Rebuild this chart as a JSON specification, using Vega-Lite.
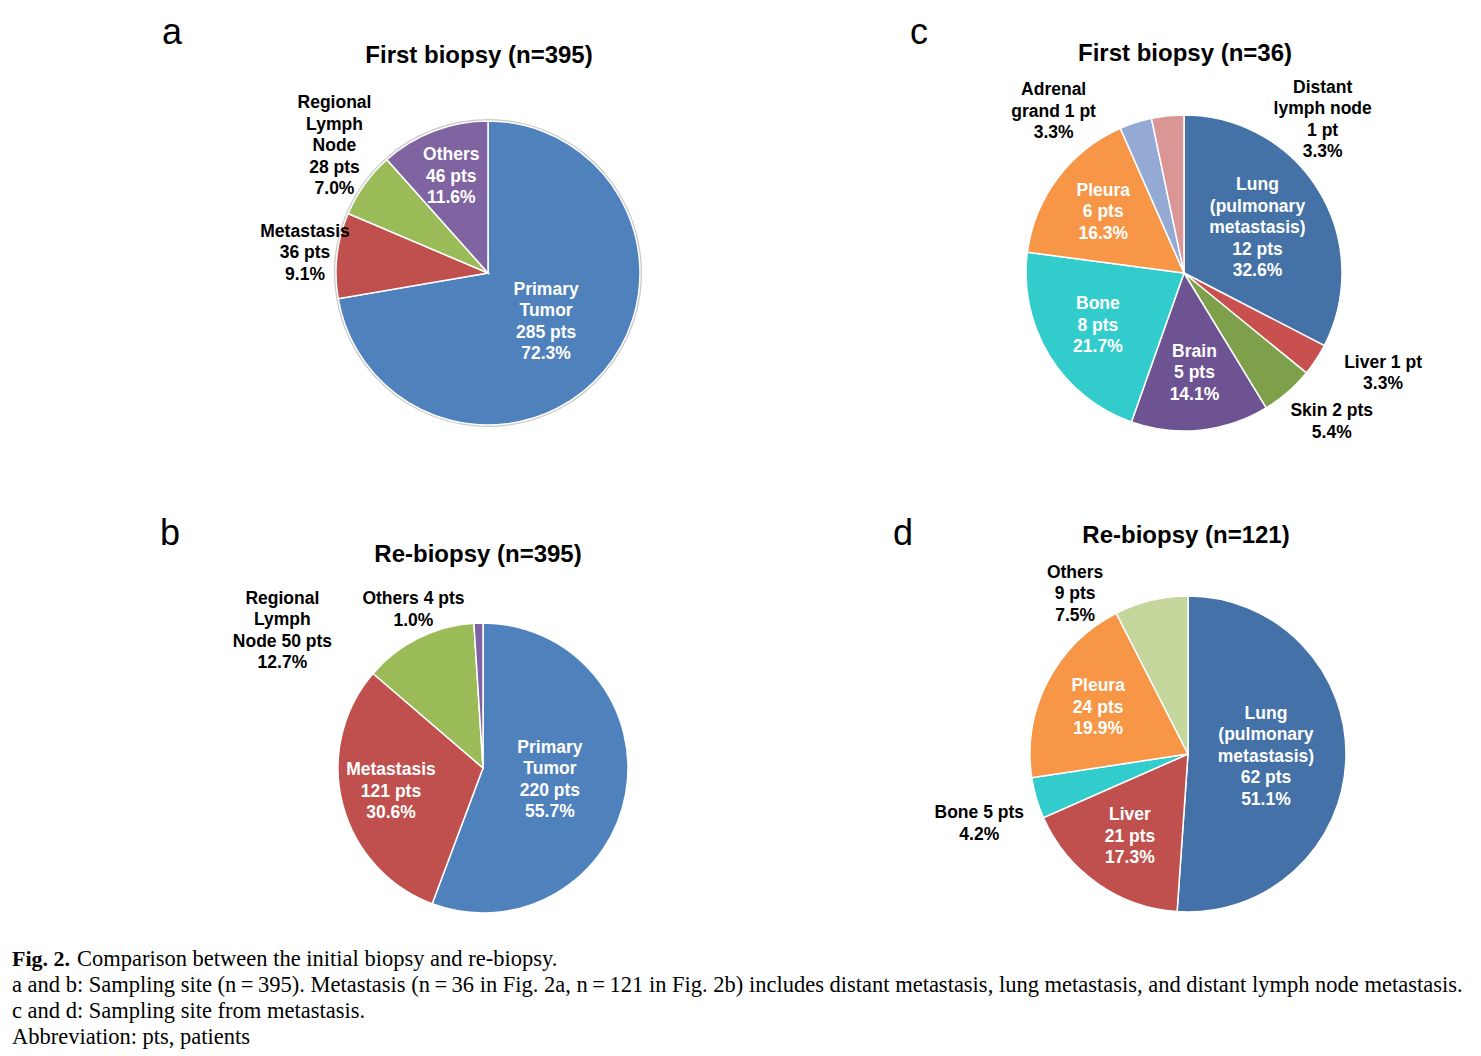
{
  "$schema": "https://vega.github.io/schema/vega-lite/v6.json",
  "background": "white",
  "padding": {"left": 12, "top": 15, "right": 0, "bottom": 0},
  "bounds": "flush",
  "spacing": 884,
  "resolve": {"scale": {"color": "independent", "theta": "independent", "y": "independent"}},
  "config": {
    "view": {"stroke": null},
    "title": {"font": "Liberation Sans", "fontSize": 24, "fontWeight": "bold", "color": "#000000", "anchor": "middle", "frame": "group"},
    "text": {"font": "Liberation Sans", "fontSize": 17.5, "fontWeight": "bold", "lineHeight": 21.5, "lineBreak": "\n"}
  },
  "datasets": {
    "a": [
      {"idx": 1, "site": "Primary Tumor", "pts": 285, "pct": 72.3, "label": "Primary\nTumor\n285 pts\n72.3%"},
      {"idx": 2, "site": "Metastasis", "pts": 36, "pct": 9.1, "label": "Metastasis\n36 pts\n9.1%"},
      {"idx": 3, "site": "Regional Lymph Node", "pts": 28, "pct": 7.0, "label": "Regional\nLymph\nNode\n28 pts\n7.0%"},
      {"idx": 4, "site": "Others", "pts": 46, "pct": 11.6, "label": "Others\n46 pts\n11.6%"}
    ],
    "b": [
      {"idx": 1, "site": "Primary Tumor", "pts": 220, "pct": 55.7, "label": "Primary\nTumor\n220 pts\n55.7%"},
      {"idx": 2, "site": "Metastasis", "pts": 121, "pct": 30.6, "label": "Metastasis\n121 pts\n30.6%"},
      {"idx": 3, "site": "Regional Lymph Node", "pts": 50, "pct": 12.7, "label": "Regional\nLymph\nNode 50 pts\n12.7%"},
      {"idx": 4, "site": "Others", "pts": 4, "pct": 1.0, "label": "Others 4 pts\n1.0%"}
    ],
    "c": [
      {"idx": 1, "site": "Lung", "pts": 12, "pct": 32.6, "label": "Lung\n(pulmonary\nmetastasis)\n12 pts\n32.6%"},
      {"idx": 2, "site": "Liver", "pts": 1, "pct": 3.3, "label": "Liver  1 pt\n3.3%"},
      {"idx": 3, "site": "Skin", "pts": 2, "pct": 5.4, "label": "Skin 2 pts\n5.4%"},
      {"idx": 4, "site": "Brain", "pts": 5, "pct": 14.1, "label": "Brain\n5 pts\n14.1%"},
      {"idx": 5, "site": "Bone", "pts": 8, "pct": 21.7, "label": "Bone\n8 pts\n21.7%"},
      {"idx": 6, "site": "Pleura", "pts": 6, "pct": 16.3, "label": "Pleura\n6 pts\n16.3%"},
      {"idx": 7, "site": "Adrenal grand", "pts": 1, "pct": 3.3, "label": "Adrenal\ngrand 1 pt\n3.3%"},
      {"idx": 8, "site": "Distant lymph node", "pts": 1, "pct": 3.3, "label": "Distant\nlymph node\n1 pt\n3.3%"}
    ],
    "d": [
      {"idx": 1, "site": "Lung", "pts": 62, "pct": 51.1, "label": "Lung\n(pulmonary\nmetastasis)\n62 pts\n51.1%"},
      {"idx": 2, "site": "Liver", "pts": 21, "pct": 17.3, "label": "Liver\n21 pts\n17.3%"},
      {"idx": 3, "site": "Bone", "pts": 5, "pct": 4.2, "label": "Bone  5 pts\n4.2%"},
      {"idx": 4, "site": "Pleura", "pts": 24, "pct": 19.9, "label": "Pleura\n24 pts\n19.9%"},
      {"idx": 5, "site": "Others", "pts": 9, "pct": 7.5, "label": "Others\n9 pts\n7.5%"}
    ],
    "caption": [
      {"line": 1, "lead": "Fig. 2.", "text": "Comparison between the initial biopsy and re-biopsy."},
      {"line": 2, "lead": "", "text": "a and b: Sampling site (n\u2009=\u2009395). Metastasis (n\u2009=\u200936 in Fig. 2a, n\u2009=\u2009121 in Fig. 2b) includes distant metastasis, lung metastasis, and distant lymph node metastasis."},
      {"line": 3, "lead": "", "text": "c and d: Sampling site from metastasis."},
      {"line": 4, "lead": "", "text": "Abbreviation: pts, patients"}
    ]
  },
  "hconcat": [
    {
      "bounds": "flush",
      "spacing": 0,
      "resolve": {"scale": {"color": "independent", "theta": "independent", "y": "independent"}},
      "vconcat": [
        {
          "width": 340, "height": 4,
          "data": {"values": [{"panel": "a"}]},
          "mark": {"type": "text", "fontSize": 36, "fontWeight": "normal", "align": "right", "baseline": "alphabetic"},
          "encoding": {"text": {"field": "panel"}}
        },
        {
          "width": 952, "height": 454,
          "title": {"text": "First biopsy (n=395)", "offset": -22, "dx": -9},
          "data": {"name": "a"},
          "encoding": {
            "theta": {"field": "pct", "type": "quantitative", "stack": true},
            "order": {"field": "idx", "type": "quantitative"}
          },
          "layer": [
            {
              "mark": {"type": "arc", "outerRadius": 154, "fill": "#C9C9C9", "strokeWidth": 0},
              "encoding": {"detail": {"field": "site"}}
            },
            {
              "mark": {"type": "arc", "outerRadius": 152, "stroke": "white", "strokeWidth": 1.5},
              "encoding": {"color": {"field": "site", "type": "nominal", "legend": null,
                "scale": {"domain": ["Primary Tumor", "Metastasis", "Regional Lymph Node", "Others"], "range": ["#4F81BD", "#C0504D", "#9BBB59", "#8064A2"]}}}
            },
            {
              "mark": {"type": "text", "fill": "white", "radius": {"expr": "datum.pct > 40 ? 76 : 103"},
                "dy": {"expr": "-(length(split(datum.label, '\\n')) - 1) * 10.75"}},
              "encoding": {"detail": {"field": "site"},
                "text": {"condition": {"test": "indexof(['Primary Tumor','Others'], datum.site) >= 0", "field": "label"}, "value": ""}}
            },
            {
              "mark": {"type": "text", "fill": "black", "radius": 152,
                "dx": {"expr": "datum.site == 'Metastasis' ? -32 : datum.site == 'Regional Lymph Node' ? -30 : 0"},
                "dy": {"expr": "-(length(split(datum.label, '\\n')) - 1) * 10.75 + (datum.site == 'Metastasis' ? -2 : datum.site == 'Regional Lymph Node' ? -38 : 0)"}},
              "encoding": {"detail": {"field": "site"},
                "text": {"condition": {"test": "indexof(['Metastasis','Regional Lymph Node'], datum.site) >= 0", "field": "label"}, "value": ""}}
            }
          ]
        },
        {
          "width": 336, "height": 90,
          "data": {"values": [{"panel": "b"}]},
          "mark": {"type": "text", "fontSize": 36, "fontWeight": "normal", "align": "right", "baseline": "alphabetic"},
          "encoding": {"text": {"field": "panel"}}
        },
        {
          "width": 942, "height": 356,
          "title": {"text": "Re-biopsy (n=395)", "offset": 23, "dx": -5},
          "data": {"name": "b"},
          "encoding": {
            "theta": {"field": "pct", "type": "quantitative", "stack": true},
            "order": {"field": "idx", "type": "quantitative"}
          },
          "layer": [
            {
              "mark": {"type": "arc", "outerRadius": 145, "stroke": "white", "strokeWidth": 1.5},
              "encoding": {"color": {"field": "site", "type": "nominal", "legend": null,
                "scale": {"domain": ["Primary Tumor", "Metastasis", "Regional Lymph Node", "Others"], "range": ["#4F81BD", "#C0504D", "#9BBB59", "#8064A2"]}}}
            },
            {
              "mark": {"type": "text", "fill": "white", "radius": {"expr": "datum.pct > 40 ? 68 : 95"},
                "dy": {"expr": "-(length(split(datum.label, '\\n')) - 1) * 10.75"}},
              "encoding": {"detail": {"field": "site"},
                "text": {"condition": {"test": "indexof(['Primary Tumor','Metastasis'], datum.site) >= 0", "field": "label"}, "value": ""}}
            },
            {
              "mark": {"type": "text", "fill": "black", "radius": 145,
                "dx": {"expr": "datum.site == 'Regional Lymph Node' ? -136 : datum.site == 'Others' ? -65 : 0"},
                "dy": {"expr": "-(length(split(datum.label, '\\n')) - 1) * 10.75 + (datum.site == 'Regional Lymph Node' ? -7 : datum.site == 'Others' ? -13 : 0)"}},
              "encoding": {"detail": {"field": "site"},
                "text": {"condition": {"test": "indexof(['Regional Lymph Node','Others'], datum.site) >= 0", "field": "label"}, "value": ""}}
            }
          ]
        },
        {
          "width": 1460, "height": 104,
          "data": {"name": "caption"},
          "encoding": {"y": {"field": "line", "type": "ordinal", "axis": null}},
          "layer": [
            {
              "transform": [{"filter": "datum.line == 1"}],
              "mark": {"type": "text", "align": "left", "x": 0, "font": "Liberation Serif", "fontSize": 22, "fontWeight": "bold"},
              "encoding": {"text": {"field": "lead"}}
            },
            {
              "transform": [{"filter": "datum.line == 1"}],
              "mark": {"type": "text", "align": "left", "x": 0, "dx": 65, "font": "Liberation Serif", "fontSize": 22.5, "fontWeight": "normal"},
              "encoding": {"text": {"field": "text"}}
            },
            {
              "transform": [{"filter": "datum.line > 1"}],
              "mark": {"type": "text", "align": "left", "x": 0, "font": "Liberation Serif", "fontSize": 22.5, "fontWeight": "normal"},
              "encoding": {"text": {"field": "text"}}
            }
          ]
        }
      ]
    },
    {
      "bounds": "flush",
      "spacing": 0,
      "resolve": {"scale": {"color": "independent", "theta": "independent"}},
      "vconcat": [
        {
          "width": 46, "height": 4,
          "data": {"values": [{"panel": "c"}]},
          "mark": {"type": "text", "fontSize": 36, "fontWeight": "normal", "align": "center", "baseline": "alphabetic"},
          "encoding": {"text": {"field": "panel"}}
        },
        {
          "width": 576, "height": 454,
          "title": {"text": "First biopsy (n=36)", "offset": -20, "dx": 1},
          "data": {"name": "c"},
          "encoding": {
            "theta": {"field": "pct", "type": "quantitative", "stack": true},
            "order": {"field": "idx", "type": "quantitative"}
          },
          "layer": [
            {
              "mark": {"type": "arc", "outerRadius": 158, "stroke": "white", "strokeWidth": 1.5},
              "encoding": {"color": {"field": "site", "type": "nominal", "legend": null,
                "scale": {"domain": ["Lung", "Liver", "Skin", "Brain", "Bone", "Pleura", "Adrenal grand", "Distant lymph node"],
                  "range": ["#4472A6", "#C8504E", "#7FA04A", "#6E5393", "#33CCCC", "#F79646", "#95A9D5", "#D99694"]}}}
            },
            {
              "mark": {"type": "text", "fill": "white", "radius": {"expr": "datum.pct > 30 ? 86 : 101"},
                "dy": {"expr": "-(length(split(datum.label, '\\n')) - 1) * 10.75"}},
              "encoding": {"detail": {"field": "site"},
                "text": {"condition": {"test": "indexof(['Lung','Brain','Bone','Pleura'], datum.site) >= 0", "field": "label"}, "value": ""}}
            },
            {
              "mark": {"type": "text", "fill": "black", "radius": 158,
                "dx": {"expr": "datum.site == 'Liver' ? 67 : datum.site == 'Skin' ? 44 : datum.site == 'Adrenal grand' ? -82 : datum.site == 'Distant lymph node' ? 155 : 0"},
                "dy": {"expr": "-(length(split(datum.label, '\\n')) - 1) * 10.75 + (datum.site == 'Liver' ? 14 : datum.site == 'Skin' ? 30 : datum.site == 'Adrenal grand' ? -11 : datum.site == 'Distant lymph node' ? 4 : 0)"}},
              "encoding": {"detail": {"field": "site"},
                "text": {"condition": {"test": "indexof(['Liver','Skin','Adrenal grand','Distant lymph node'], datum.site) >= 0", "field": "label"}, "value": ""}}
            }
          ]
        },
        {
          "width": 14, "height": 90,
          "data": {"values": [{"panel": "d"}]},
          "mark": {"type": "text", "fontSize": 36, "fontWeight": "normal", "align": "center", "baseline": "alphabetic"},
          "encoding": {"text": {"field": "panel"}}
        },
        {
          "width": 584, "height": 328,
          "title": {"text": "Re-biopsy (n=121)", "offset": 16, "dx": -2},
          "data": {"name": "d"},
          "encoding": {
            "theta": {"field": "pct", "type": "quantitative", "stack": true},
            "order": {"field": "idx", "type": "quantitative"}
          },
          "layer": [
            {
              "mark": {"type": "arc", "outerRadius": 158, "stroke": "white", "strokeWidth": 1.5},
              "encoding": {"color": {"field": "site", "type": "nominal", "legend": null,
                "scale": {"domain": ["Lung", "Liver", "Bone", "Pleura", "Others"], "range": ["#4471A7", "#C0504D", "#33CCCC", "#F79646", "#C4D69C"]}}}
            },
            {
              "mark": {"type": "text", "fill": "white", "radius": {"expr": "datum.pct > 40 ? 78 : 101"},
                "dy": {"expr": "-(length(split(datum.label, '\\n')) - 1) * 10.75"}},
              "encoding": {"detail": {"field": "site"},
                "text": {"condition": {"test": "indexof(['Lung','Liver','Pleura'], datum.site) >= 0", "field": "label"}, "value": ""}}
            },
            {
              "mark": {"type": "text", "fill": "black", "radius": 158,
                "dx": {"expr": "datum.site == 'Bone' ? -57 : datum.site == 'Others' ? -76 : 0"},
                "dy": {"expr": "-(length(split(datum.label, '\\n')) - 1) * 10.75 + (datum.site == 'Bone' ? 26 : datum.site == 'Others' ? -6 : 0)"}},
              "encoding": {"detail": {"field": "site"},
                "text": {"condition": {"test": "indexof(['Bone','Others'], datum.site) >= 0", "field": "label"}, "value": ""}}
            }
          ]
        }
      ]
    }
  ]
}
